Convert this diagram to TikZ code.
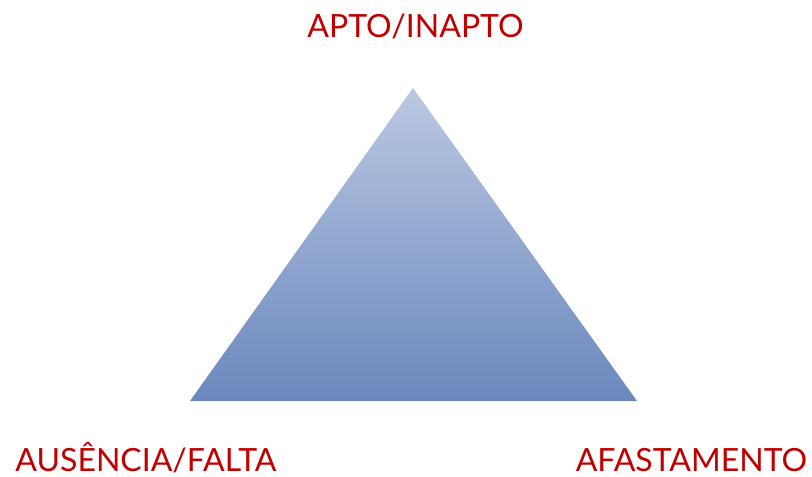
\documentclass[tikz,border=0pt]{standalone}
\usepackage{fontspec}
\setmainfont{Lato}
\definecolor{labred}{RGB}{192,0,0}
\definecolor{tritop}{RGB}{186,200,226}
\definecolor{tribot}{RGB}{106,135,189}
\begin{document}
\begin{tikzpicture}[x=1pt,y=-1pt,
  lab/.style={text=labred,font=\fontsize{32}{36}\selectfont,anchor=base,inner sep=0pt,text depth=0pt}]
\useasboundingbox (0,0) rectangle (812,477);
\coordinate (T) at (413,88);
\coordinate (L) at (190,401);
\coordinate (R) at (637,401);
\shade[top color=tritop,bottom color=tribot] (T) -- (L) -- (R) -- cycle;
\node[lab] (top) at (415.5,37) {APTO/INAPTO};
\node[lab] (left) at (146,471) {AUSÊNCIA/FALTA};
\node[lab] (right) at (691.5,471) {AFASTAMENTO};
\end{tikzpicture}
\end{document}
